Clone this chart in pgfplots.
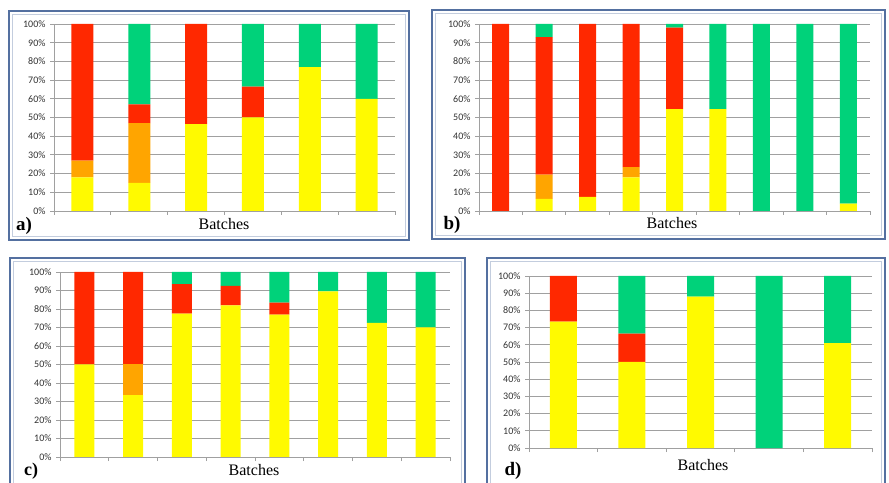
\documentclass[border=0pt]{standalone}
\usepackage{pgfplots}
\pgfplotsset{compat=1.18}
\usepackage{fontspec}
\setmainfont{Liberation Serif}
\newfontfamily\calfont{Carlito}
\definecolor{cy}{RGB}{255,250,0}
\definecolor{co}{RGB}{255,165,0}
\definecolor{cr}{RGB}{255,40,0}
\definecolor{cg}{RGB}{0,210,122}
\definecolor{frameblue}{RGB}{84,112,160}
\definecolor{framelight}{RGB}{195,205,222}
\definecolor{gridgray}{RGB}{160,160,160}
\pgfplotsset{panel/.style={
  scale only axis, anchor=south west,
  ybar stacked, ymin=0, ymax=100, ytick={0,10,...,100},
  yticklabel={\pgfmathprintnumber{\tick}\%},
  ymajorgrids, grid style={gridgray, line width=0.8pt},
  axis x line*=bottom, axis y line*=left, axis line style={gridgray, line width=0.8pt, -},
  tick align=outside, major tick length=4pt, tick style={gridgray, line width=0.8pt},
  xticklabel=\empty,
  yticklabel style={font=\calfont\fontsize{10}{11}\selectfont, text=black!80, xshift=-1pt},
  /pgf/number format/assume math mode=true,
  every axis plot/.append style={draw=none},
}}
\begin{document}
\begin{tikzpicture}[x=1pt,y=1pt]
\useasboundingbox (0,0) rectangle (889,482);
\clip (0,0) rectangle (889,482);
\fill[white] (0,0) rectangle (889,482);
% frames
\draw[frameblue, line width=2pt] (9,242) rectangle (409,471);
\draw[framelight, line width=1.2pt] (12.5,245.5) rectangle (405.5,467.5);
\draw[frameblue, line width=2pt] (432,243) rectangle (885,472);
\draw[framelight, line width=1.2pt] (435.5,246.5) rectangle (881.5,468.5);
\draw[frameblue, line width=2pt] (10,-10) rectangle (465,224);
\draw[framelight, line width=1.2pt] (13.5,-6.5) rectangle (461.5,220.5);
\draw[frameblue, line width=2pt] (487,-10) rectangle (885,224);
\draw[framelight, line width=1.2pt] (490.5,-6.5) rectangle (881.5,220.5);

% panel a
\begin{axis}[panel, at={(54pt,271pt)}, width=341pt, height=187pt,
  xmin=0.5, xmax=6.5, xtick={0.5,1.5,...,6.5}, bar width=22pt]
\addplot[fill=cy] coordinates {(1,18) (2,15) (3,46.5) (4,50) (5,77) (6,60)};
\addplot[fill=co] coordinates {(1,9) (2,32) (3,0) (4,0) (5,0) (6,0)};
\addplot[fill=cr] coordinates {(1,73) (2,10) (3,53.5) (4,16.5) (5,0) (6,0)};
\addplot[fill=cg] coordinates {(1,0) (2,43) (3,0) (4,33.5) (5,23) (6,40)};
\end{axis}
\node[font=\fontsize{19}{19}\selectfont\bfseries] at (24,256) {a)};
\node[font=\fontsize{16}{16}\selectfont] at (224,258) {Batches};

% panel b
\begin{axis}[panel, at={(479pt,271pt)}, width=391pt, height=187pt,
  xmin=0.5, xmax=9.5, xtick={0.5,1.5,...,9.5}, bar width=17pt]
\addplot[fill=cy] coordinates {(1,0) (2,6.5) (3,7.5) (4,18) (5,54.5) (6,54.5) (7,0) (8,0) (9,4)};
\addplot[fill=co] coordinates {(1,0) (2,13) (3,0) (4,5.5) (5,0) (6,0) (7,0) (8,0) (9,0)};
\addplot[fill=cr] coordinates {(1,100) (2,73.5) (3,92.5) (4,76.5) (5,43.5) (6,0) (7,0) (8,0) (9,0)};
\addplot[fill=cg] coordinates {(1,0) (2,7) (3,0) (4,0) (5,2) (6,45.5) (7,100) (8,100) (9,96)};
\end{axis}
\node[font=\fontsize{19}{19}\selectfont\bfseries] at (452,257) {b)};
\node[font=\fontsize{16}{16}\selectfont] at (672,259) {Batches};

% panel c
\begin{axis}[panel, at={(60pt,25pt)}, width=390pt, height=185pt,
  xmin=0.5, xmax=8.5, xtick={0.5,1.5,...,8.5}, bar width=20pt]
\addplot[fill=cy] coordinates {(1,50) (2,33.5) (3,77.5) (4,82) (5,77) (6,89.5) (7,72.5) (8,70)};
\addplot[fill=co] coordinates {(1,0) (2,16.5) (3,0) (4,0) (5,0) (6,0) (7,0) (8,0)};
\addplot[fill=cr] coordinates {(1,50) (2,50) (3,16) (4,10.5) (5,6.5) (6,0) (7,0) (8,0)};
\addplot[fill=cg] coordinates {(1,0) (2,0) (3,6.5) (4,7.5) (5,16.5) (6,10.5) (7,27.5) (8,30)};
\end{axis}
\node[font=\fontsize{18}{18}\selectfont\bfseries] at (31,11) {c)};
\node[font=\fontsize{16}{16}\selectfont] at (254,12) {Batches};

% panel d
\begin{axis}[panel, at={(529pt,34pt)}, width=343pt, height=172pt,
  xmin=0.5, xmax=5.5, xtick={0.5,1.5,...,5.5}, bar width=27pt]
\addplot[fill=cy] coordinates {(1,73.5) (2,50) (3,88) (4,0) (5,61)};
\addplot[fill=co] coordinates {(1,0) (2,0) (3,0) (4,0) (5,0)};
\addplot[fill=cr] coordinates {(1,26.5) (2,16.5) (3,0) (4,0) (5,0)};
\addplot[fill=cg] coordinates {(1,0) (2,33.5) (3,12) (4,100) (5,39)};
\end{axis}
\node[font=\fontsize{19}{19}\selectfont\bfseries] at (513,11) {d)};
\node[font=\fontsize{16}{16}\selectfont] at (703,17) {Batches};
\end{tikzpicture}
\end{document}
